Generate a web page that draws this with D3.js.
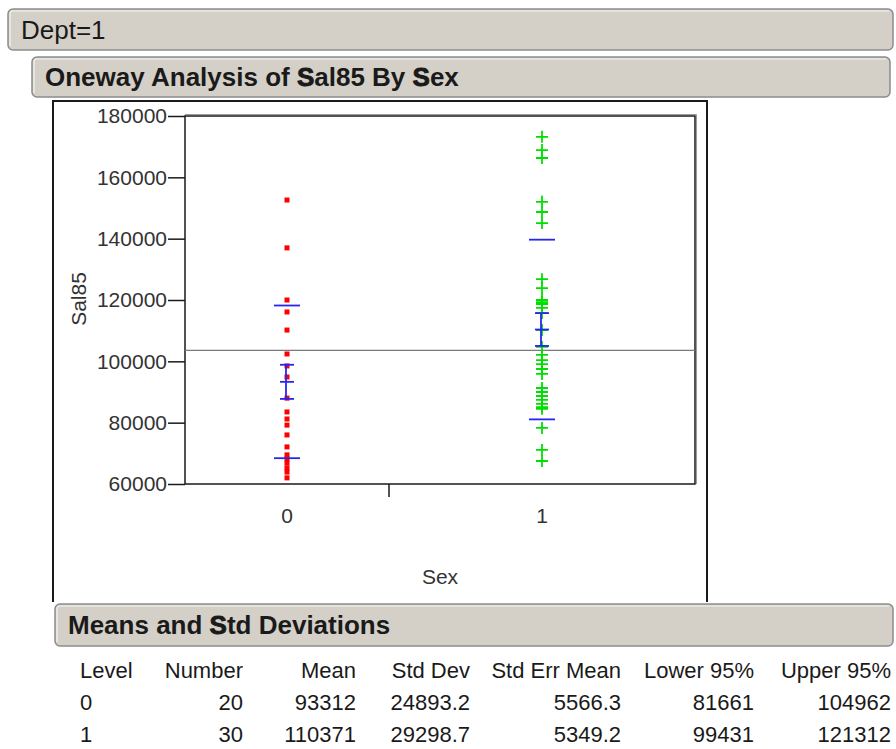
<!DOCTYPE html>
<html>
<head>
<meta charset="utf-8">
<script src="https://cdn.jsdelivr.net/npm/d3@7"></script>
<style>
  body { margin: 0; background: #fff; }
  svg text { font-family: "Liberation Sans", Arial, sans-serif; fill: #222; }
</style>
</head>
<body>
<div id="chart"></div>
<script>
// group levels of Sex and the summary table values
var levels = ["0", "1"];
var counts = [20, 30];
var means = [93312, 110371];
var stdDevs = [24893.2, 29298.7];
var stdErrs = [5566.3, 5349.2];
var lower95 = [81661, 99431];
var upper95 = [104962, 121312];

// Sal85 values
var sal85Sex0 = [152600, 137000, 120000, 116100, 110200, 102400, 98500, 94900, 88000, 83500,
  81200, 79200, 76000, 72100, 69500, 68200, 66800, 65200, 63900, 62000];
var sal85Sex1 = [173200, 168900, 166300, 152000, 148700, 145100, 126800, 123900, 120000, 119300,
  118700, 117400, 115800, 110200, 104700, 102100, 100400, 99100, 97500, 95900,
  91300, 90000, 88700, 87400, 86100, 85100, 84500, 78300, 71100, 67500];

var yTicks = [60000, 80000, 100000, 120000, 140000, 160000, 180000];
var tableHead = ["Level", "Number", "Mean", "Std Dev", "Std Err Mean", "Lower 95%", "Upper 95%"];

var W = 896, H = 749;
var plot = {left: 185, right: 695, top: 116, bottom: 484};
var blue = "#2626f0";

var svg = d3.select("#chart").append("svg")
  .attr("width", W)
  .attr("height", H);

// outline header box, JMP style
function headerBox(x, y, w, h, label, size, bold) {
  var g = svg.append("g");
  g.append("rect")
    .attr("x", x).attr("y", y)
    .attr("width", w).attr("height", h)
    .attr("rx", 5)
    .style("fill", "#d4d0c8")
    .style("stroke", "#8c8c8c")
    .style("stroke-width", 1.5);
  g.append("path")
    .attr("d", "M" + (x + 2) + "," + (y + h - 4) + "V" + (y + 5) + "Q" + (x + 2) + "," + (y + 2) + " " + (x + 5) + "," + (y + 2) + "H" + (x + w - 4))
    .style("fill", "none")
    .style("stroke", "#f4f4f2")
    .style("stroke-width", 1.2);
  var t = g.append("text")
    .attr("x", x + 13)
    .attr("y", y + h / 2 + size * 0.36)
    .style("font-size", size + "px")
    .style("font-weight", bold ? "bold" : "normal")
    .style("fill", "#1a1a1a");
  // the "S" letters are drawn heavier in the report headers
  label.forEach(function(part) {
    var ts = t.append("tspan").text(part.t);
    if (part.heavy) ts.style("stroke", "#1a1a1a").style("stroke-width", 0.9);
  });
  return g;
}

headerBox(8, 9, 885, 41, [{t: "Dept=1"}], 26, false);
headerBox(32, 57, 858, 40, [{t: "Oneway Analysis of "}, {t: "S", heavy: true}, {t: "al85 By "}, {t: "S", heavy: true}, {t: "ex"}], 26, true);

// frame around the graph
svg.append("path")
  .attr("d", "M53,602V101H707V602")
  .style("fill", "none")
  .style("stroke", "#1a1a1a")
  .style("stroke-width", 2);

// scales
var y = d3.scaleLinear()
  .domain([60000, 180000])
  .range([plot.bottom, plot.top]);

// x widths proportional to group sizes
var total = d3.sum(counts);
var xw = d3.scaleLinear()
  .domain([0, total])
  .range([plot.left, plot.right]);
var starts = [0];
counts.forEach(function(c, i) { starts.push(starts[i] + c); });
function xCenter(i) { return xw(starts[i] + counts[i] / 2); }

// plot area
svg.append("rect")
  .attr("x", plot.left).attr("y", plot.top)
  .attr("width", plot.right - plot.left)
  .attr("height", plot.bottom - plot.top)
  .style("fill", "#fff")
  .style("stroke", "#1a1a1a")
  .style("stroke-width", 1.5);
svg.append("path")
  .attr("d", "M" + plot.left + "," + (plot.top - 1.5) + "H" + (plot.right + 1.5) + "V" + plot.bottom)
  .style("fill", "none")
  .style("stroke", "#9a9a9a")
  .style("stroke-width", 1);

// y axis
var yAxis = d3.axisLeft(y)
  .tickValues(yTicks)
  .tickSize(17)
  .tickPadding(1)
  .tickFormat(d3.format("d"));
var gy = svg.append("g")
  .attr("transform", "translate(" + plot.left + ",0)")
  .call(yAxis);
gy.select(".domain").remove();
gy.selectAll(".tick line").style("stroke", "#1a1a1a").style("stroke-width", 1.5);
gy.selectAll(".tick text")
  .style("font-size", "21px")
  .style("font-family", "'Liberation Sans', Arial, sans-serif")
  .style("fill", "#333");

svg.append("text")
  .attr("transform", "translate(86,299) rotate(-90)")
  .attr("text-anchor", "middle")
  .style("font-size", "21px")
  .style("fill", "#333")
  .text("Sal85");

// x axis: tick at the group boundary, labels at group centres
svg.append("line")
  .attr("x1", xw(starts[1])).attr("x2", xw(starts[1]))
  .attr("y1", plot.bottom).attr("y2", plot.bottom + 13)
  .style("stroke", "#1a1a1a")
  .style("stroke-width", 1.5);
svg.selectAll(".xlab")
  .data(levels)
  .enter().append("text")
  .attr("class", "xlab")
  .attr("x", function(d, i) { return xCenter(i); })
  .attr("y", 523)
  .attr("text-anchor", "middle")
  .style("font-size", "21px")
  .style("fill", "#333")
  .text(function(d) { return d; });
svg.append("text")
  .attr("x", 440)
  .attr("y", 584)
  .attr("text-anchor", "middle")
  .style("font-size", "21px")
  .style("fill", "#333")
  .text("Sex");

// grand mean line
var grandMean = d3.sum(means, function(m, i) { return m * counts[i]; }) / total;
svg.append("line")
  .attr("x1", plot.left).attr("x2", plot.right)
  .attr("y1", y(grandMean)).attr("y2", y(grandMean))
  .style("stroke", "#7a7a7a")
  .style("stroke-width", 1.2);

// points, sex 0 = red squares
svg.append("g").selectAll("rect")
  .data(sal85Sex0)
  .enter().append("rect")
  .attr("x", xCenter(0) - 2.5)
  .attr("y", function(d) { return y(d) - 2.5; })
  .attr("width", 5)
  .attr("height", 5)
  .style("fill", "#ff0000");

// sex 1 = green plus signs
svg.append("g").selectAll("path")
  .data(sal85Sex1)
  .enter().append("path")
  .attr("d", function(d) {
    var cx = xCenter(1), cy = y(d);
    return "M" + (cx - 6) + "," + cy + "H" + (cx + 6) + "M" + cx + "," + (cy - 6) + "V" + (cy + 6);
  })
  .style("stroke", "#00e000")
  .style("stroke-width", 1.8)
  .style("fill", "none");

// means with std error bars and std dev lines
levels.forEach(function(lv, i) {
  var cx = xCenter(i);
  var g = svg.append("g").style("stroke", blue).style("stroke-width", 1.8);
  function hline(v, half) {
    g.append("line")
      .attr("x1", cx - half).attr("x2", cx + half)
      .attr("y1", y(v)).attr("y2", y(v));
  }
  g.append("line")
    .attr("x1", cx - 1).attr("x2", cx - 1)
    .attr("y1", y(means[i] + stdErrs[i])).attr("y2", y(means[i] - stdErrs[i]));
  hline(means[i] + stdErrs[i], 7);
  hline(means[i] - stdErrs[i], 7);
  hline(means[i], 7);
  hline(means[i] + stdDevs[i], 13);
  hline(means[i] - stdDevs[i], 13);
});

// Means and Std Deviations report
headerBox(55, 604, 838, 42, [{t: "Means and "}, {t: "S", heavy: true}, {t: "td Deviations"}], 26, true);

var colRight = [null, 243, 356, 470, 621, 754, 891];
var rows = levels.map(function(lv, i) {
  return [lv, counts[i], means[i], stdDevs[i].toFixed(1), stdErrs[i].toFixed(1), lower95[i], upper95[i]];
});
function tableRow(cells, yy) {
  cells.forEach(function(c, j) {
    svg.append("text")
      .attr("x", j === 0 ? 80 : colRight[j])
      .attr("y", yy)
      .attr("text-anchor", j === 0 ? "start" : "end")
      .style("font-size", "22px")
      .style("fill", "#1a1a1a")
      .text(c);
  });
}
tableRow(tableHead, 678);
rows.forEach(function(r, i) { tableRow(r, 710 + i * 32); });
</script>
</body>
</html>
